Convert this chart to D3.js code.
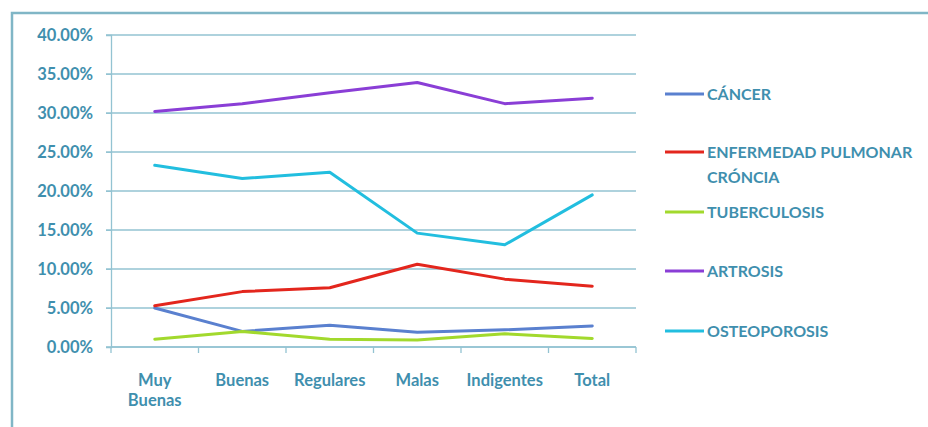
<!DOCTYPE html>
<html>
<head>
<meta charset="utf-8">
<script src="https://cdn.jsdelivr.net/npm/d3@7"></script>
<style>
  body { margin: 0; background: #fff; }
  svg { display: block; }
</style>
</head>
<body>
<script>
// categories on the x axis
const categories = ['Muy Buenas', 'Buenas', 'Regulares', 'Malas', 'Indigentes', 'Total'];
// y axis ticks (percent)
const yTicks = [0, 5, 10, 15, 20, 25, 30, 35, 40];

// series values (percent)
const cancer = [5.0, 2.0, 2.8, 1.9, 2.2, 2.7];
const pulmonar = [5.3, 7.1, 7.6, 10.6, 8.7, 7.8];
const tuberculosis = [1.0, 2.0, 1.0, 0.9, 1.7, 1.1];
const artrosis = [30.2, 31.2, 32.6, 33.9, 31.2, 31.9];
const osteoporosis = [23.3, 21.6, 22.4, 14.6, 13.1, 19.5];

const seriesNames = ['CÁNCER', 'ENFERMEDAD PULMONAR CRÓNCIA', 'TUBERCULOSIS', 'ARTROSIS', 'OSTEOPOROSIS'];
const seriesColors = ['#5a80cf', '#e3261d', '#a2d92d', '#8a3ed6', '#22bedf'];

const series = [cancer, pulmonar, tuberculosis, artrosis, osteoporosis].map((values, i) => ({
  name: seriesNames[i],
  color: seriesColors[i],
  values: values
}));

const width = 928, height = 427;
const margin = {top: 35, right: 292, bottom: 80, left: 111};
const textColor = '#3f8fae';
const gridColor = '#93c3d2';
const font = 'Lato, "Open Sans", sans-serif';

const svg = d3.select('body')
  .append('svg')
  .attr('width', width)
  .attr('height', height);

// outer frame, running off the right and bottom edges
svg.append('rect')
  .attr('x', 12)
  .attr('y', 13)
  .attr('width', width)
  .attr('height', height)
  .attr('fill', 'none')
  .attr('stroke', '#80b6c6')
  .attr('stroke-width', 2.5);

const xScale = d3.scaleBand()
  .domain(categories)
  .range([margin.left, width - margin.right]);

const yScale = d3.scaleLinear()
  .domain([0, 40])
  .range([height - margin.bottom, margin.top]);

// grid lines
svg.append('g')
  .selectAll('line')
  .data(yTicks)
  .join('line')
  .attr('x1', margin.left - 5)
  .attr('x2', width - margin.right)
  .attr('y1', d => yScale(d))
  .attr('y2', d => yScale(d))
  .attr('stroke', gridColor)
  .attr('stroke-width', 1.3);

// y axis
const yAxis = d3.axisLeft(yScale)
  .tickValues(yTicks)
  .tickSize(5)
  .tickFormat(d => d.toFixed(2) + '%');

const gy = svg.append('g')
  .attr('transform', `translate(${margin.left},0)`)
  .call(yAxis);
gy.select('.domain').attr('stroke', gridColor).attr('stroke-width', 1.3);
gy.selectAll('.tick line').attr('stroke', gridColor);
gy.selectAll('text')
  .attr('x', -18)
  .style('font-family', font)
  .style('font-size', '16.5px')
  .style('font-weight', 'bold')
  .attr('fill', textColor);

// x axis, ticks between categories
const boundaries = categories.map(c => xScale(c)).concat([width - margin.right]);
const gx = svg.append('g');
gx.append('line')
  .attr('x1', margin.left)
  .attr('x2', width - margin.right)
  .attr('y1', yScale(0))
  .attr('y2', yScale(0))
  .attr('stroke', gridColor)
  .attr('stroke-width', 1.3);
gx.selectAll('.xtick')
  .data(boundaries)
  .join('line')
  .attr('class', 'xtick')
  .attr('x1', d => d)
  .attr('x2', d => d)
  .attr('y1', yScale(0))
  .attr('y2', yScale(0) + 6)
  .attr('stroke', gridColor)
  .attr('stroke-width', 1.3);

const xLabels = gx.selectAll('.xlabel')
  .data(categories)
  .join('text')
  .attr('class', 'xlabel')
  .attr('x', d => xScale(d) + xScale.bandwidth() / 2)
  .attr('y', 386)
  .attr('text-anchor', 'middle')
  .style('font-family', font)
  .style('font-size', '16.5px')
  .style('font-weight', 'bold')
  .attr('fill', textColor);
xLabels.each(function(d) {
  const el = d3.select(this);
  const parts = d === 'Muy Buenas' ? ['Muy', 'Buenas'] : [d];
  parts.forEach((p, i) => {
    el.append('tspan')
      .attr('x', xScale(d) + xScale.bandwidth() / 2)
      .attr('dy', i === 0 ? 0 : 20)
      .text(p);
  });
});

// lines
const line = d3.line()
  .x((d, i) => xScale(categories[i]) + xScale.bandwidth() / 2)
  .y(d => yScale(d));

svg.append('g')
  .selectAll('path')
  .data(series)
  .join('path')
  .attr('d', d => line(d.values))
  .attr('fill', 'none')
  .attr('stroke', d => d.color)
  .attr('stroke-width', 3)
  .attr('stroke-linejoin', 'round')
  .attr('stroke-linecap', 'round');

// legend
const legendY = [94, 152, 212, 271, 331];
const legend = svg.append('g')
  .selectAll('g')
  .data(series)
  .join('g')
  .attr('transform', (d, i) => `translate(665,${legendY[i]})`);

legend.append('line')
  .attr('x1', 0)
  .attr('x2', 39)
  .attr('stroke', d => d.color)
  .attr('stroke-width', 3);

legend.append('text')
  .attr('x', 42)
  .attr('y', 6)
  .style('font-family', font)
  .style('font-size', '16px')
  .style('font-weight', 'bold')
  .attr('fill', textColor)
  .each(function(d) {
    const el = d3.select(this);
    const parts = d.name === 'ENFERMEDAD PULMONAR CRÓNCIA'
      ? ['ENFERMEDAD PULMONAR', 'CRÓNCIA'] : [d.name];
    parts.forEach((p, i) => {
      el.append('tspan')
        .attr('x', 42)
        .attr('dy', i === 0 ? 0 : 25)
        .text(p);
    });
  });
</script>
</body>
</html>
